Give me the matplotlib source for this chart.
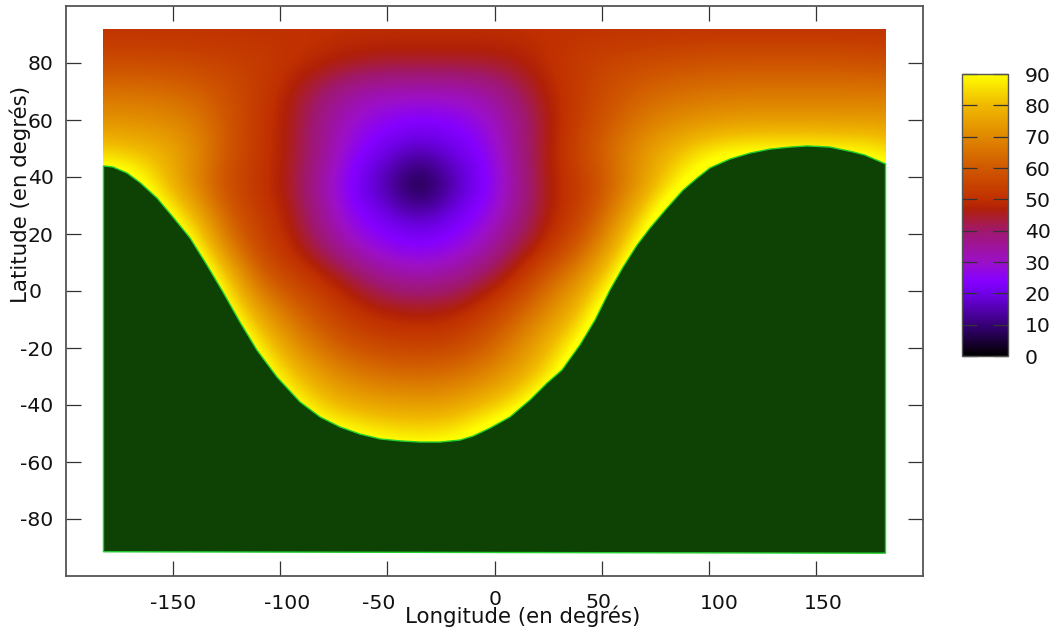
import numpy as np
import matplotlib
matplotlib.use("Agg")
import matplotlib.pyplot as plt

from matplotlib.colors import LinearSegmentedColormap, Normalize
from matplotlib.cm import ScalarMappable
from matplotlib.patches import Rectangle
from matplotlib.transforms import ScaledTranslation

W, H = 1059, 630

# node spacing of the map, 15 degrees in longitude and 11 in latitude
lon_first, lon_step = -185, 15
lat_first, lat_step = 92, -11

# angle, one row per latitude. Under the green area it only has to stay above 90
row_p92 = [50, 50, 50, 50, 50, 50, 50, 50, 50, 50, 50, 50, 50, 50, 50, 50, 50, 50, 50, 50, 50, 50, 50, 50, 50, 50]
row_p81 = [56, 56, 56, 55, 54, 53, 51, 49, 47, 46, 46, 46, 46, 47, 50, 53, 55, 56, 57, 58, 58, 58, 58, 58, 57, 57]
row_p70 = [65, 65, 64, 62, 58, 53, 47, 40, 34, 32, 32, 32, 34, 40, 48, 53, 58, 62, 64, 65, 66, 66, 66, 66, 66, 66]
row_p59 = [72, 72, 71, 68, 60, 52, 46, 36, 29, 25, 23, 24, 28, 36, 46, 54, 61, 67, 71, 73, 74, 74, 74, 74, 74, 74]
row_p48 = [85, 82, 79, 72, 60, 52, 46, 36, 25, 19, 15, 19, 24, 36, 47, 56, 65, 74, 81, 88, 91, 92, 92, 91, 90, 84]
row_p37 = [100, 98, 82, 69, 57, 51, 45, 33, 21, 14, 0, 14, 22, 34, 47, 52, 62, 74, 88, 100, 104, 105, 106, 105, 102, 98]
row_p26 = [113, 106, 95, 80, 62, 53, 47, 35, 25, 20, 16, 20, 26, 36, 47, 54, 68, 85, 104, 110, 113, 115, 115, 114, 112, 110]
row_p15 = [122, 116, 106, 92, 69, 56, 49, 40, 31, 26, 24, 26, 32, 42, 50, 61, 76, 96, 112, 118, 121, 123, 124, 123, 120, 118]
row_p4 = [130, 124, 114, 103, 84, 63, 55, 50, 43, 36, 34, 36, 42, 50, 62, 72, 87, 110, 120, 126, 129, 131, 132, 131, 128, 126]
row_m7 = [138, 132, 122, 112, 92, 75, 64, 56, 50, 47, 46, 47, 52, 60, 70, 80, 100, 118, 126, 132, 135, 137, 138, 137, 134, 132]
row_m18 = [145, 138, 128, 118, 104, 86, 72, 63, 57, 54, 53, 54, 59, 68, 78, 90, 112, 124, 132, 138, 141, 143, 144, 143, 140, 138]
row_m29 = [150, 143, 134, 124, 110, 96, 82, 73, 67, 64, 63, 64, 68, 75, 84, 104, 120, 130, 138, 144, 147, 149, 150, 149, 146, 144]
row_m40 = [153, 148, 140, 130, 118, 104, 92, 82, 77, 75, 74, 75, 80, 86, 100, 115, 128, 136, 144, 150, 152, 154, 155, 154, 152, 150]
row_m51 = [156, 152, 146, 136, 126, 116, 106, 96, 92, 88, 87, 88, 95, 104, 114, 125, 134, 142, 150, 154, 156, 158, 158, 158, 156, 154]
row_m62 = [160, 156, 150, 142, 134, 124, 114, 106, 102, 100, 99, 100, 106, 114, 124, 134, 142, 150, 156, 160, 160, 160, 160, 160, 160, 160]

# edge of the green area
edge_lon = [-182.5, -178.1, -171.5, -165.2, -157.5, -150.1, -142.1, -134.2, -126.7, -118.8, -110.9, -101.5,
            -90.8, -81.4, -72.1, -62.8, -53.4, -44.1, -34.8, -25.4, -16.1, -10, -2.1, 7.2, 16.6, 24.5, 31.5,
            39.9, 46.9, 53.9, 60, 66.5, 72.6, 80.5, 88, 94.5, 100.6, 109.9, 119.3, 128.6, 137.9, 145.9, 156.6,
            167.3, 172.9, 182.5]
edge_lat = [43.9, 43.5, 41.4, 37.9, 32.6, 26, 18.6, 9.1, -0.4, -10.9, -20.7, -30.2,
            -38.9, -44.2, -47.7, -50.2, -51.9, -52.6, -53, -53, -52.3, -50.9, -48.1, -44.2, -38.2, -32.3, -27.7,
            -18.9, -10.2, 0.4, 8.4, 16.1, 22.1, 29.1, 35.4, 39.6, 43.2, 46.3, 48.4, 49.8, 50.5, 50.9, 50.5,
            48.8, 47.7, 44.6]

x_ticks = [-150, -100, -50, 0, 50, 100, 150]
y_ticks = [-80, -60, -40, -20, 0, 20, 40, 60, 80]
cb_ticks = [0, 10, 20, 30, 40, 50, 60, 70, 80, 90]

# palette stops, angle / colour
pal_val = [0, 10, 20, 24, 30, 40, 47, 50, 60, 70, 80, 90]
pal_col = ["#000000", "#380078", "#7000e8", "#8600ff", "#9c10c8", "#a0186c", "#b02008",
           "#c03000", "#d05800", "#e08800", "#f0b800", "#ffff00"]

cmap = LinearSegmentedColormap.from_list("gp", [(v / 90, c) for v, c in zip(pal_val, pal_col)], N=512)
norm = Normalize(0, 90)


def px_axes(fig, left, top, right, bottom):
    return fig.add_axes([left / W, 1 - bottom / H, (right - left) / W, (bottom - top) / H])


plt.rcParams["font.family"] = "DejaVu Sans"
plt.rcParams["axes.unicode_minus"] = False

fig = plt.figure(figsize=(W / 100, H / 100), dpi=100)
ax = px_axes(fig, 66, 6, 923, 576)

Z = np.array([row_p92, row_p81, row_p70, row_p59, row_p48, row_p37, row_p26, row_p15,
              row_p4, row_m7, row_m18, row_m29, row_m40, row_m51, row_m62], dtype=float)

nrow, ncol = Z.shape
extent = (lon_first - lon_step / 2, lon_first + (ncol - 0.5) * lon_step,
          lat_first + (nrow - 0.5) * lat_step, lat_first - lat_step / 2)
im = ax.imshow(Z, extent=extent, origin="upper", aspect="auto", cmap=cmap, norm=norm,
               interpolation="bicubic", interpolation_stage="data")
im.set_clip_path(Rectangle((-182.5, -92), 365, 184, transform=ax.transData))

# the green area sits on top of the map
poly_x = edge_lon + [182.5, -182.5]
poly_y = edge_lat + [-92, -91.5]
ax.fill(poly_x, poly_y, facecolor="#0e4204", edgecolor="#22d030", linewidth=1.0, zorder=3)

ax.set_xlim(-200, 200)
ax.set_ylim(-100, 100)
ax.set_xticks(x_ticks)
ax.set_yticks(y_ticks)
ax.tick_params(axis="both", direction="in", length=11, width=0.9, color="#333333",
               top=True, right=True, labelsize=14.7, labelcolor="#111111")
ax.tick_params(axis="x", pad=13)
ax.tick_params(axis="y", pad=9)
for s in ax.spines.values():
    s.set_color("#555555")
    s.set_linewidth(1.3)

# gnuplot placed these labels a little off their ticks
x_shift = [0, 7, -9, 1, -3, 10, 7]
x_lift = [0, 0, 0, 4, 1, 0, 0]
for lab, dx, dy in zip(ax.get_xticklabels(), x_shift, x_lift):
    lab.set_transform(lab.get_transform() + ScaledTranslation(dx / 100, dy / 100, fig.dpi_scale_trans))
for lab, val in zip(ax.get_yticklabels(), y_ticks):
    if val == 0:
        lab.set_transform(lab.get_transform() + ScaledTranslation(-12 / 100, 0, fig.dpi_scale_trans))

fig.text(523 / W, 1 - 616 / H, "Longitude (en degrés)", ha="center", va="center", color="#111111", fontsize=15.4)
fig.text(20 / W, 1 - 194 / H, "Latitude (en degrés)", ha="center", va="center", rotation=90,
         color="#111111", fontsize=15.4)

cax = px_axes(fig, 962, 74, 1008, 356)
cb = fig.colorbar(ScalarMappable(norm=norm, cmap=cmap), cax=cax, ticks=cb_ticks)
cb.outline.set_edgecolor("#555555")
cb.outline.set_linewidth(1.0)
cax.tick_params(axis="y", direction="in", length=11, width=0.9, color="#333333",
                left=True, right=True, labelsize=14.7, labelcolor="#111111", pad=12)

fig.savefig("out.png", dpi=100)
